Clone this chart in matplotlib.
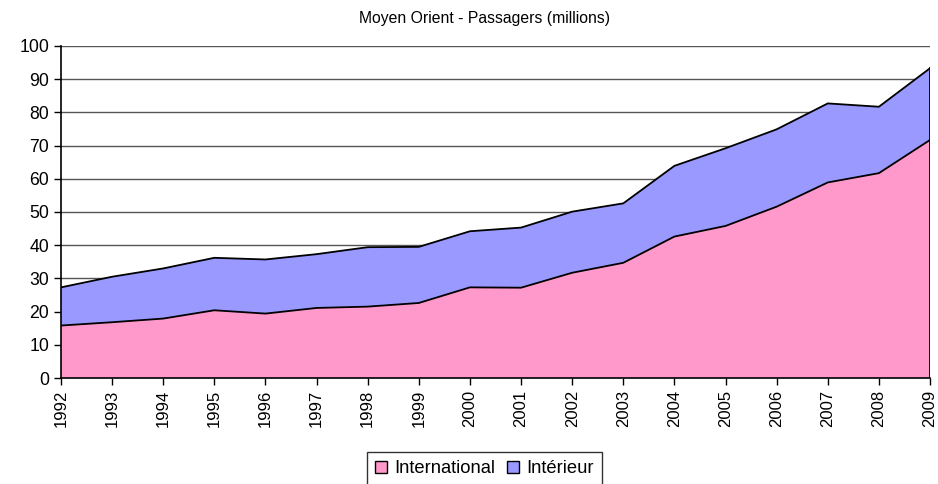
import matplotlib.pyplot as plt
import matplotlib.patches as mpatches
import numpy as np

plt.rcParams['font.family'] = ['Liberation Sans', 'DejaVu Sans']

# données
years = list(range(1992, 2010))
international = [15.8, 16.8, 17.9, 20.4, 19.4, 21.1, 21.5, 22.6, 27.3, 27.2,
                 31.7, 34.7, 42.6, 45.8, 51.6, 58.9, 61.7, 71.7]
total = [27.3, 30.5, 33.0, 36.2, 35.7, 37.3, 39.4, 39.5, 44.2, 45.3,
         50.1, 52.6, 63.9, 69.2, 74.9, 82.7, 81.7, 93.3]
interieur = [t - i for t, i in zip(total, international)]

x = np.array(years)
intl = np.array(international)
top = intl + np.array(interieur)

fig = plt.figure(figsize=(9.38, 4.84), dpi=100)
ax = fig.add_axes([0.065, 0.219, 0.9265, 0.686])

pink = '#FF99CC'
blue = '#9999FF'

ax.fill_between(x, 0, intl, facecolor=pink, edgecolor='none', zorder=2)
ax.fill_between(x, intl, top, facecolor=blue, edgecolor='none', zorder=2)
ax.plot(x, intl, color='black', lw=1.3, zorder=3)
ax.plot(x, top, color='black', lw=1.3, zorder=3)
ax.plot([x[-1], x[-1]], [0, top[-1]], color='black', lw=1.3, zorder=3)

ax.set_xlim(1992, 2009)
ax.set_ylim(0, 100)
ax.set_yticks(range(0, 101, 10))
ax.set_xticks(years)
ax.set_xticklabels([str(y) for y in years], rotation=90, fontsize=12)
ax.tick_params(axis='y', labelsize=12.7, direction='out', length=5, width=1)
ax.tick_params(axis='x', direction='out', length=5, width=1)
ax.grid(axis='y', color='#555555', lw=1, zorder=1)
ax.set_axisbelow(True)

for s in ['top', 'right']:
    ax.spines[s].set_visible(False)
ax.spines['left'].set_linewidth(1.2)
ax.spines['bottom'].set_linewidth(1.2)
ax.spines['bottom'].set_zorder(4)

fig.text(0.516, 0.962, 'Moyen Orient - Passagers (millions)', ha='center', va='center', fontsize=11.3)

handles = [mpatches.Patch(facecolor=pink, edgecolor='black', lw=1, label='International'),
           mpatches.Patch(facecolor=blue, edgecolor='black', lw=1, label='Intérieur')]
leg = fig.legend(handles=handles, loc='upper center', bbox_to_anchor=(0.5165, 0.066), ncol=2,
                 fontsize=13.2, frameon=True, fancybox=False, handlelength=0.65, handleheight=0.65,
                 handletextpad=0.4, columnspacing=0.6, borderpad=0.45, borderaxespad=0)
leg.get_frame().set_edgecolor('black')
leg.get_frame().set_linewidth(1)

fig.savefig('out.png', dpi=100)
